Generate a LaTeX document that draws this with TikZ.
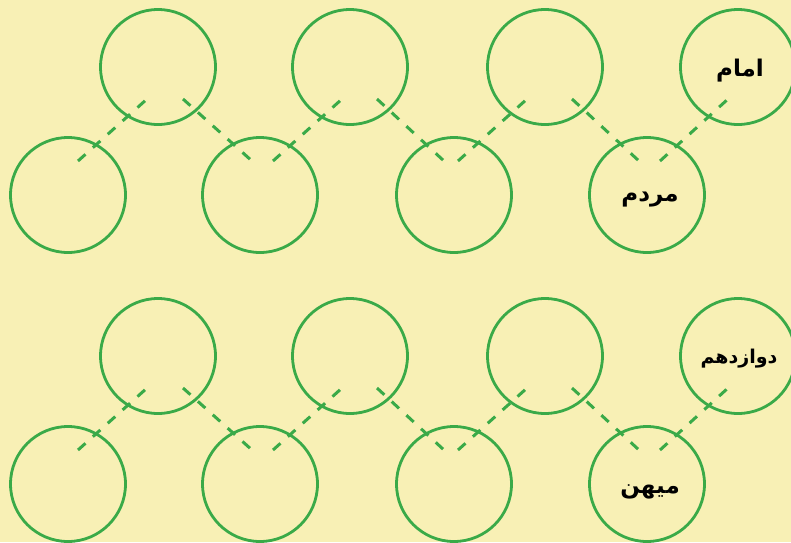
\documentclass[tikz,border=0pt]{standalone}
\usepackage{fontspec}
\newfontfamily\arabicfont[Script=Arabic]{DejaVu Sans}
\TeXXeTstate=1
\usetikzlibrary{calc}
\definecolor{bgc}{RGB}{248,240,181}
\definecolor{grn}{RGB}{58,170,72}
\tikzset{
  circ/.style={circle, draw=grn, line width=2.8pt, minimum size=115pt, inner sep=0pt},
  dl/.style={draw=grn, line width=3pt, dash pattern=on 10pt off 10pt},
  lbl/.style={font=\arabicfont\bfseries\fontsize{23}{26}\selectfont, text=black},
  lbls/.style={font=\arabicfont\bfseries\fontsize{19}{22}\selectfont, text=black}
}
\begin{document}
\begin{tikzpicture}[x=1pt,y=-1pt]
\fill[bgc] (0,0) rectangle (791,542);
\useasboundingbox (0,0) rectangle (791,542);
\begin{scope}
\clip (0,0) rectangle (791,542);
\foreach \g/\dy in {a/0,b/289}{
  \node[circ] (\g t1) at (158,67+\dy) {};
  \node[circ] (\g t2) at (350,67+\dy) {};
  \node[circ] (\g t3) at (545,67+\dy) {};
  \node[circ] (\g t4) at (738,67+\dy) {};
  \node[circ] (\g b1) at (68,195+\dy) {};
  \node[circ] (\g b2) at (260,195+\dy) {};
  \node[circ] (\g b3) at (454,195+\dy) {};
  \node[circ] (\g b4) at (647,195+\dy) {};
  \draw[dl] ($(\g b1)+(10,-34)$) -- ($(\g t1)+(-11,32)$);
  \draw[dl] ($(\g t1)+(25,32)$) -- ($(\g b2)+(-8,-34)$);
  \draw[dl] ($(\g b2)+(13,-34)$) -- ($(\g t2)+(-8,32)$);
  \draw[dl] ($(\g t2)+(27,32)$) -- ($(\g b3)+(-10,-34)$);
  \draw[dl] ($(\g b3)+(4,-34)$) -- ($(\g t3)+(-18,32)$);
  \draw[dl] ($(\g t3)+(27,32)$) -- ($(\g b4)+(-8,-34)$);
  \draw[dl] ($(\g b4)+(13,-34)$) -- ($(\g t4)+(-10,32)$);
}
\end{scope}
\node[lbl] (l1) at ($(at4)+(2,4)$) {\beginR امام\endR};
\node[lbl] (l2) at ($(ab4)+(3,5)$) {\beginR مردم\endR};
\node[lbls] (l3) at ($(bt4)+(1,3)$) {\beginR دوازدهم\endR};
\node[lbl] (l4) at ($(bb4)+(3,8)$) {\beginR میهن\endR};
\end{tikzpicture}
\end{document}
